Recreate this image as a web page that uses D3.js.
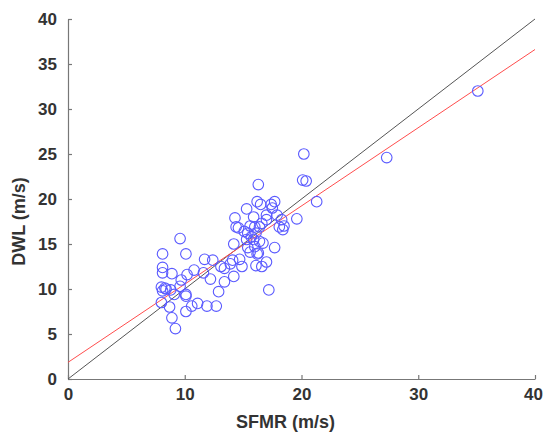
<!DOCTYPE html>
<html>
<head>
<meta charset="utf-8">
<script src="https://cdn.jsdelivr.net/npm/d3@7"></script>
<style>
  body { margin: 0; background: #fff; }
  text { font-family: "Liberation Sans", Arial, sans-serif; font-weight: bold; fill: #333; }
</style>
</head>
<body>
<div id="chart"></div>
<script>
// SFMR vs DWL wind speeds (m/s)
const sfmr = [35.1, 27.3, 20.2, 20.1, 20.4, 21.3, 19.6, 16.3, 16.2, 16.5,
  17.4, 17.7, 17.5, 15.3, 14.3, 15.9, 17.0, 17.9, 14.4, 14.6,
  16.6, 17.0, 18.3, 18.5, 18.1, 18.4, 15.1, 15.6, 16.0, 16.4,
  15.4, 15.7, 16.1, 15.3, 15.9, 16.4, 14.2, 16.7, 15.4, 16.0,
  16.3, 17.7, 15.6, 16.2, 14.7, 14.1, 11.7, 12.4, 13.1, 13.4,
  13.9, 14.9, 16.1, 16.6, 17.0, 12.2, 13.4, 14.2, 12.9, 17.2,
  11.9, 12.7, 11.6, 9.6, 8.1, 10.1, 8.1, 8.1, 8.9, 9.7,
  10.2, 10.8, 8.0, 8.1, 8.4, 8.8, 8.3, 9.1, 9.6, 10.1,
  10.1, 8.0, 8.7, 10.1, 10.6, 11.1, 8.9, 9.2];
const dwl = [32.0, 24.6, 25.0, 22.1, 22.0, 19.7, 17.8, 21.6, 19.7, 19.4,
  19.4, 19.7, 19.0, 18.9, 17.9, 18.0, 18.2, 18.2, 16.9, 16.8,
  17.3, 17.7, 17.7, 17.0, 16.9, 16.6, 16.4, 17.0, 16.9, 16.9,
  16.2, 15.8, 16.2, 15.5, 15.5, 15.3, 15.0, 15.1, 14.6, 14.7,
  14.0, 14.6, 14.1, 13.9, 13.3, 13.2, 13.3, 13.2, 12.5, 12.3,
  12.8, 12.5, 12.6, 12.5, 13.0, 11.1, 10.8, 11.4, 9.7, 9.9,
  8.1, 8.1, 11.8, 15.6, 13.9, 13.9, 12.4, 11.8, 11.7, 11.0,
  11.6, 12.1, 10.2, 9.8, 10.0, 9.9, 10.1, 9.4, 10.3, 9.4,
  9.2, 8.5, 8.0, 7.5, 8.1, 8.4, 6.8, 5.6];
const ticks = [0, 5, 10, 15, 20, 25, 30, 35, 40];
const xTicks = [0, 10, 20, 30, 40];
// fitted line: DWL = a * SFMR + b
const fitSlope = 0.869, fitIntercept = 1.85;

const width = 543, height = 435;
const margin = {top: 19, right: 8, bottom: 56, left: 68};

const svg = d3.select("#chart").append("svg")
  .attr("width", width).attr("height", height);

const x = d3.scaleLinear().domain([0, 40]).range([margin.left, 535]);
const y = d3.scaleLinear().domain([0, 40]).range([379, margin.top]);

const xAxis = d3.axisBottom(x).tickValues(xTicks).tickSizeInner(-4).tickSizeOuter(0).tickPadding(9);
const yAxis = d3.axisLeft(y).tickValues(ticks).tickSizeInner(-4).tickSizeOuter(0).tickPadding(11);

const gx = svg.append("g").attr("transform", `translate(0,${y(0)})`).call(xAxis);
const gy = svg.append("g").attr("transform", `translate(${x(0)},0)`).call(yAxis);
[gx, gy].forEach(g => {
  g.select(".domain").attr("stroke", "#777").attr("stroke-width", 1.2);
  g.selectAll(".tick line").attr("stroke", "#777").attr("stroke-width", 1.2);
  g.selectAll(".tick text").attr("font-size", "17px").attr("font-family", null).attr("fill", "#333");
});
// keep the last x label inside the window
gx.selectAll(".tick text").filter(d => d === 40).attr("dx", "-2px");

// 1:1 line and regression line
svg.append("line")
  .attr("x1", x(0)).attr("y1", y(0)).attr("x2", x(40)).attr("y2", y(40))
  .attr("stroke", "#555").attr("stroke-width", 1);
svg.append("line")
  .attr("x1", x(0)).attr("y1", y(fitIntercept))
  .attr("x2", x(40)).attr("y2", y(fitSlope * 40 + fitIntercept))
  .attr("stroke", "#ff4d4d").attr("stroke-width", 1);

svg.append("g")
  .selectAll("circle")
  .data(sfmr.map((d, i) => [d, dwl[i]]))
  .join("circle")
    .attr("cx", d => x(d[0]))
    .attr("cy", d => y(d[1]))
    .attr("r", 5.3)
    .attr("fill", "none")
    .attr("stroke", "#5a5aff")
    .attr("stroke-width", 1.1);

svg.append("text")
  .attr("x", (x(0) + x(40)) / 2 - 16).attr("y", 428)
  .attr("text-anchor", "middle")
  .attr("font-size", "18px")
  .text("SFMR (m/s)");

svg.append("text")
  .attr("transform", `translate(25,${y(17.5)}) rotate(-90)`)
  .attr("text-anchor", "middle")
  .attr("font-size", "18px")
  .text("DWL (m/s)");
</script>
</body>
</html>
